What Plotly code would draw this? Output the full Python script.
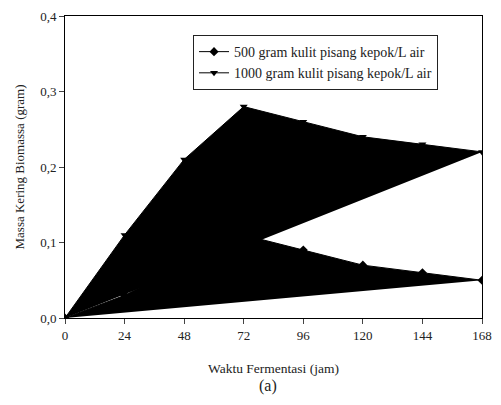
import plotly.graph_objects as go

hours = [0, 24, 48, 72, 96, 120, 144, 168]
series_500 = [0.0, 0.03, 0.07, 0.11, 0.09, 0.07, 0.06, 0.05]
series_1000 = [0.0, 0.11, 0.21, 0.28, 0.26, 0.24, 0.23, 0.22]
name_500 = "500 gram kulit pisang kepok/L air"
name_1000 = "1000 gram kulit pisang kepok/L air"
x_ticks = [0, 24, 48, 72, 96, 120, 144, 168]
y_ticks = [0.0, 0.1, 0.2, 0.3, 0.4]

FONT = "Times New Roman, Liberation Serif, serif"

fig = go.Figure()
fig.add_trace(go.Scatter(x=hours, y=series_1000, mode="lines+markers", fill="toself",
                         fillcolor="black", line=dict(color="black", width=1),
                         marker=dict(symbol="triangle-down", size=7, color="black"),
                         showlegend=False, name=name_1000))
fig.add_trace(go.Scatter(x=hours, y=series_500, mode="lines+markers", fill="toself",
                         fillcolor="black", line=dict(color="black", width=1),
                         marker=dict(symbol="diamond", size=7, color="black"),
                         showlegend=False, name=name_500))
# legend entries
fig.add_trace(go.Scatter(x=[None], y=[None], mode="lines+markers", name=name_500,
                         line=dict(color="black", width=1),
                         marker=dict(symbol="diamond", size=7, color="black")))
fig.add_trace(go.Scatter(x=[None], y=[None], mode="lines+markers", name=name_1000,
                         line=dict(color="black", width=1),
                         marker=dict(symbol="triangle-down", size=7, color="black")))

# page body has an 8px margin: figure is sized/offset to compensate
fig.update_layout(
    width=485, height=389,
    margin=dict(l=57, r=11, t=8, b=79),
    paper_bgcolor="white", plot_bgcolor="white",
    separators=", ",
    font=dict(family=FONT, size=12, color="#222"),
    showlegend=True,
    legend=dict(x=0.307, y=0.937, xanchor="left", yanchor="top",
                bordercolor="#222", borderwidth=1, bgcolor="white",
                font=dict(family=FONT, size=14), tracegroupgap=0),
    xaxis=dict(range=[0, 168], tickvals=x_ticks, ticks="outside", ticklen=5,
               showline=True, linecolor="black", linewidth=1, mirror=True,
               showgrid=False, zeroline=False, automargin="bottom+height",
               tickfont=dict(family=FONT, size=13),
               title=dict(text="Waktu Fermentasi (jam)", font=dict(family=FONT, size=13.5), standoff=21)),
    yaxis=dict(range=[0, 0.4], tickvals=y_ticks, tickformat=".1f", ticks="outside", ticklen=5,
               showline=True, linecolor="black", linewidth=1, mirror=True,
               showgrid=False, zeroline=False, ticklabeloverflow="allow",
               automargin="left+width",
               tickfont=dict(family=FONT, size=13),
               title=dict(text="Massa Kering Biomassa (gram)", font=dict(family=FONT, size=13), standoff=12)),
    annotations=[dict(text="(a)", x=0.486, y=-0.19, xref="paper", yref="paper",
                      showarrow=False, font=dict(family=FONT, size=16, color="#222"),
                      xanchor="center", yanchor="top")],
)
fig.write_html("out.html")
